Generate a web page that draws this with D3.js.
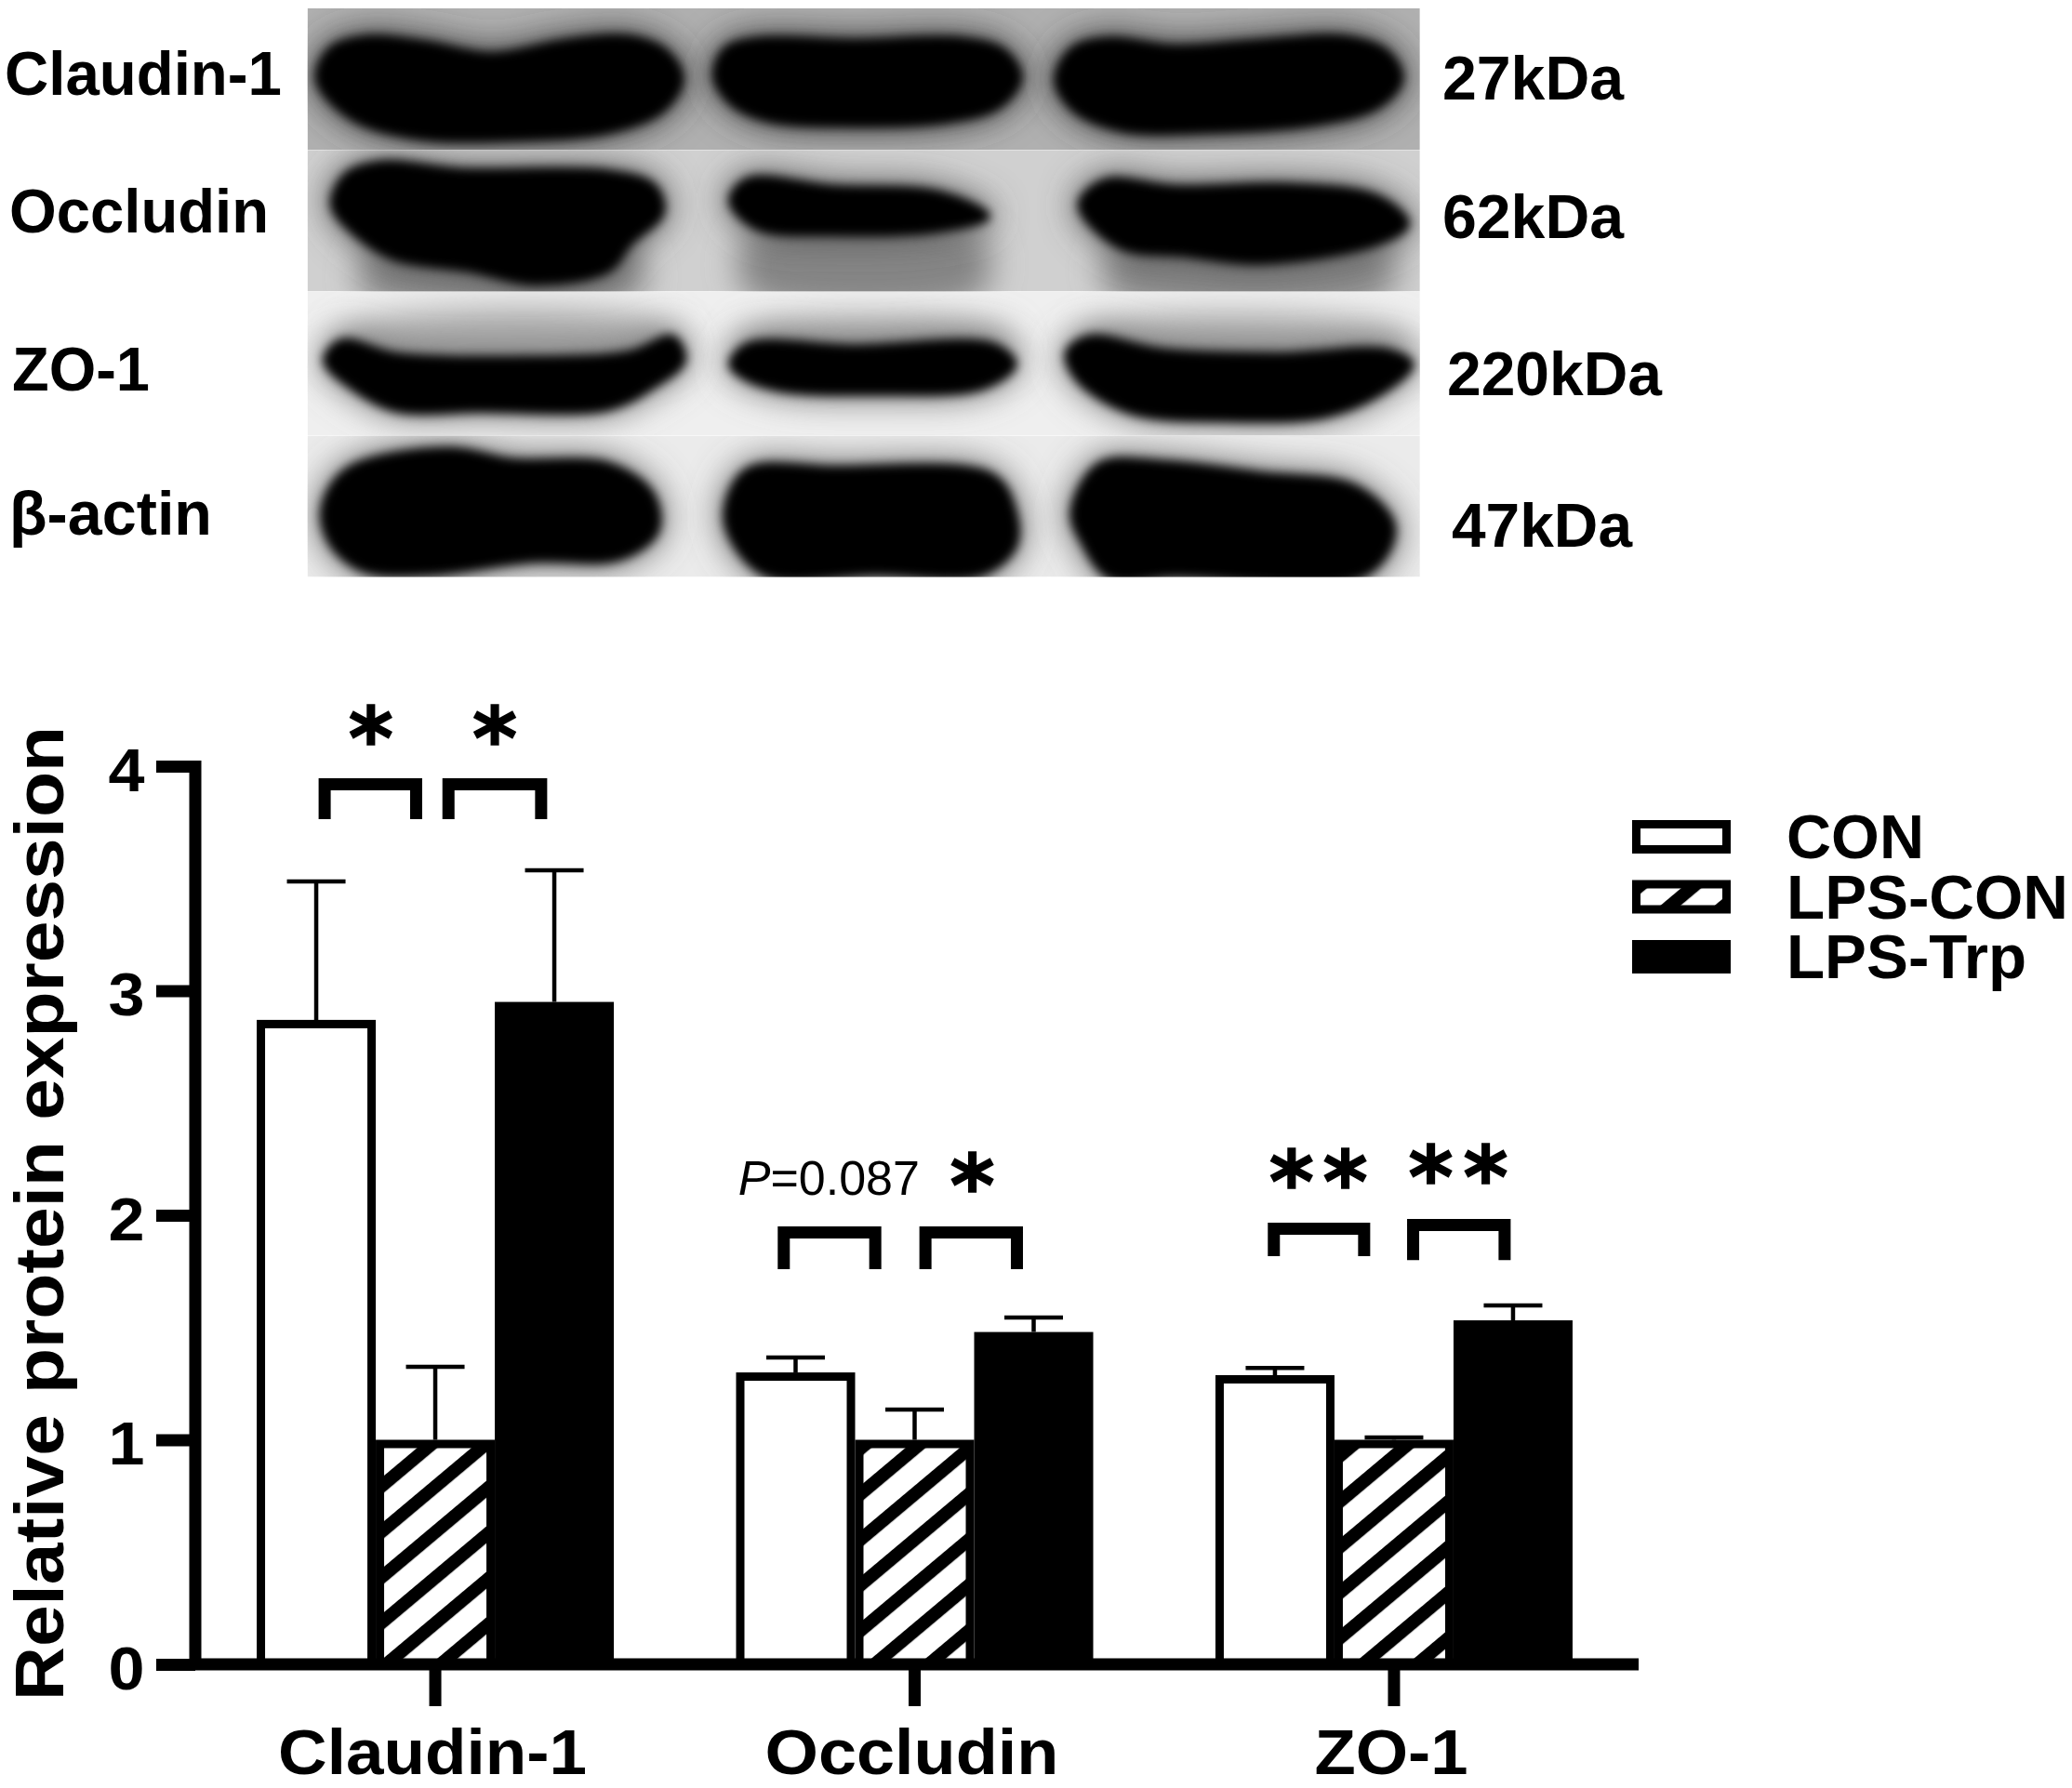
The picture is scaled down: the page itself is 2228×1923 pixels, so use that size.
<!DOCTYPE html>
<html><head><meta charset="utf-8">
<script src="https://cdn.jsdelivr.net/npm/d3@7/dist/d3.min.js"></script>
<style>html,body{margin:0;background:#fff}svg{display:block;filter:blur(.6px)}text{font-family:"Liberation Sans",Arial,sans-serif;font-weight:700;fill:#000}</style>
</head><body><svg id="c" width="2228" height="1923"></svg>
<script>
const groups = ["Claudin-1","Occludin","ZO-1"];
const seriesNames = ["CON","LPS-CON","LPS-Trp"];
const conValues = [2.87,1.30,1.288];
const lpsValues = [1.0,1.0,1.0];
const trpValues = [2.95,1.48,1.532];
const conErrTop = [3.487,1.366,1.32];
const lpsErrTop = [1.325,1.135,1.01];
const trpErrTop = [3.536,1.545,1.598];
const yTicks = [0,1,2,3,4];
const yTitle = "Relative protein expression";
// significance brackets: group, start / end in bar widths from the group centre, top and foot on the value axis
const brackets = [
 [0,-.98,-.11,3.946,3.764],[0,.06,.94,3.946,3.764],
 [1,-1.15,-.28,1.95,1.76],[1,.04,.91,1.95,1.76],
 [2,-1.06,-.2,1.967,1.818],[2,.11,.98,1.983,1.80]];
const stars = [[0,-.54,4.18],[0,.5,4.18],[1,.485,2.186],[2,-.86,2.203],[2,-.41,2.203],[2,.31,2.224],[2,.77,2.224]];
const pNote = [1,-.72,2.09];
const blotLabels = ["Claudin-1","Occludin","ZO-1","β-actin"];
const kdaLabels = ["27kDa","62kDa","220kDa","47kDa"];
// blot bands, in the coordinates of a 1568 x 1568 crop
const blotPanels = [[22,395,"#b0b0b0","#3a3a3a"],[395,768,"#d0d0d0","#555"],[768,1148,"#efefef","#777"],[1148,1520,"#ebebeb","#666"]];
const blotBands = [
 [[298,210],[310,130],[345,100],[400,115],[460,145],[530,110],[590,100],[625,140],[638,210],[620,290],[570,345],[480,365],[390,360],[330,310]],
 [[670,200],[680,130],[710,105],[800,110],[900,105],[940,135],[955,205],[935,280],[880,320],[800,328],[720,315],[685,270]],
 [[990,210],[1005,130],[1040,105],[1100,125],[1180,110],[1260,100],[1300,140],[1312,210],[1290,280],[1230,325],[1130,345],[1050,340],[1005,285]],
 [[312,540],[325,460],[360,430],[430,450],[570,455],[612,490],[620,560],[590,640],[570,710],[500,745],[440,710],[370,680],[335,620]],
 [[685,530],[700,475],[780,495],[880,510],[925,570],[880,605],[780,615],[710,600]],
 [[1012,540],[1035,478],[1100,495],[1210,490],[1290,520],[1318,590],[1290,640],[1180,690],[1110,670],[1050,650]],
 [[305,950],[320,900],[370,935],[480,945],[590,930],[630,890],[640,950],[610,1020],[570,1075],[450,1080],[370,1078],[330,1020]],
 [[685,960],[700,910],[800,915],[930,910],[950,960],[920,1020],[820,1035],[730,1025],[695,990]],
 [[1000,930],[1020,890],[1090,925],[1200,935],[1300,925],[1322,960],[1290,1040],[1240,1095],[1150,1105],[1060,1085],[1010,1000]],
 [[303,1340],[325,1240],[420,1185],[480,1215],[570,1225],[610,1300],[615,1400],[580,1470],[500,1475],[400,1510],[340,1500],[310,1430]],
 [[680,1350],[700,1240],[780,1235],[930,1255],[950,1350],[950,1440],[920,1510],[820,1510],[720,1515],[690,1440]],
 [[1005,1350],[1030,1225],[1090,1220],[1180,1250],[1270,1285],[1305,1390],[1280,1510],[1100,1515],[1040,1520],[1015,1430]]];
const smudgesBlot2 = [
 [[350,640],[590,640],[600,775],[340,775]],
 [[700,620],[920,620],[920,775],[700,775]],
 [[1040,650],[1300,640],[1300,775],[1040,775]]];
const smudgesBlot3 = [
 [[320,870],[630,860],[630,950],[320,950]],
 [[695,875],[945,875],[945,950],[695,950]],
 [[1015,870],[1320,880],[1320,950],[1015,950]]];

const svg = d3.select("#c");
const defs = svg.append("defs");
const pat = defs.append("pattern").attr("id","hatch").attr("patternUnits","userSpaceOnUse")
  .attr("width",37.5).attr("height",37.5).attr("patternTransform","rotate(-40) translate(0,18.7)");
pat.append("rect").attr("width",37.5).attr("height",37.5).attr("fill","#fff");
pat.append("rect").attr("width",37.5).attr("height",14).attr("fill","#000");
const blur=(id,s)=>defs.append("filter").attr("id",id).attr("x","-50%").attr("y","-100%").attr("width","200%").attr("height","300%")
  .append("feGaussianBlur").attr("stdDeviation",s);
blur("soft",5.5); blur("halo",18); blur("smudge",17);

// ---- blot
const bx = d3.scaleLinear([0,1568],[0,1800]);
const by = d3.scaleLinear([0,1568],[0,640]);
const outline = d3.line(d=>bx(d[0]),d=>by(d[1])).curve(d3.curveCatmullRomClosed);
const blot = svg.append("g");
blotPanels.forEach((p,i)=>{
  const id="panel"+i;
  defs.append("clipPath").attr("id",id).append("rect")
    .attr("x",bx(288)).attr("y",by(p[0])).attr("width",bx(1330)-bx(288)).attr("height",by(p[1])-by(p[0]));
  const g = blot.append("g").attr("clip-path",`url(#${id})`);
  g.append("rect").attr("x",bx(288)).attr("y",by(p[0])).attr("width",bx(1330)-bx(288)).attr("height",by(p[1])-by(p[0])).attr("fill",p[2]);
  const bands = blotBands.slice(i*3,i*3+3);
  const sm = i===1?smudgesBlot2:i===2?smudgesBlot3:[];
  g.selectAll(".s").data(sm).join("path").attr("d",outline).attr("fill",i===1?"#858585":"#a8a8a8").attr("filter","url(#smudge)");
  g.selectAll(".h").data(bands).join("path").attr("d",outline).attr("fill",p[3]).attr("stroke",p[3]).attr("stroke-width",14).attr("filter","url(#halo)");
  g.selectAll(".b").data(bands).join("path").attr("d",outline).attr("fill","#000").attr("stroke","#000").attr("stroke-width",6).attr("filter","url(#soft)");
});
const fit=(sel,x,y,w,size,t)=>sel.append("text").attr("x",x).attr("y",y).attr("font-size",size)
  .attr("textLength",w).attr("lengthAdjust","spacingAndGlyphs").text(t);
fit(svg,5,102,298,66,blotLabels[0]);
fit(svg,10,250,279,66,blotLabels[1]);
fit(svg,13,420,148,66,blotLabels[2]);
fit(svg,10,575,218,66,blotLabels[3]);
fit(svg,1551,107,195,66,kdaLabels[0]);
fit(svg,1551,256,195,66,kdaLabels[1]);
fit(svg,1556,425,231,66,kdaLabels[2]);
fit(svg,1561,588,194,66,kdaLabels[3]);

// ---- chart
const y = d3.scaleLinear([0,4],[1790,824]);
const x0 = d3.scaleBand(groups,[208,1759]).paddingInner(.255).paddingOuter(.132);
const x1 = d3.scaleBand(seriesNames,[0,x0.bandwidth()]);
const rows = groups.flatMap((g,i)=>[
 {g,s:seriesNames[0],v:conValues[i],e:conErrTop[i]},
 {g,s:seriesNames[1],v:lpsValues[i],e:lpsErrTop[i]},
 {g,s:seriesNames[2],v:trpValues[i],e:trpErrTop[i]}]);
const fills = d3.scaleOrdinal(seriesNames,["#fff","url(#hatch)","#000"]);
const sw=9, capW=63;
const cx = d=>x0(d.g)+x1(d.s)+x1.bandwidth()/2;
const chart = svg.append("g");
chart.selectAll(".err").data(rows).join("path")
  .attr("d",d=>`M${cx(d)},${y(d.v)}V${y(d.e)}M${cx(d)-capW/2},${y(d.e)}H${cx(d)+capW/2}`)
  .attr("fill","none").attr("stroke","#000").attr("stroke-width",4.5);
chart.selectAll(".bar").data(rows).join("rect")
  .attr("x",d=>x0(d.g)+x1(d.s)+sw/2).attr("width",x1.bandwidth()-sw)
  .attr("y",d=>y(d.v)+sw/2).attr("height",d=>y(0)-y(d.v)-sw/2)
  .attr("fill",d=>fills(d.s)).attr("stroke","#000").attr("stroke-width",sw);

const yAxis = svg.append("g").attr("transform","translate(210,0)")
  .call(d3.axisLeft(y).tickValues(yTicks).tickFormat(d3.format("d")).tickSize(42).tickSizeOuter(0).tickPadding(12));
const xAxisG = svg.append("g").attr("transform",`translate(0,${y(0)})`)
  .call(d3.axisBottom(x0).tickSize(45).tickSizeOuter(0).tickPadding(30));
xAxisG.select(".domain").attr("d","M204,0H1762");
[yAxis,xAxisG].forEach(a=>{
  a.selectAll(".domain,.tick line").attr("stroke","#000").attr("stroke-width",13).attr("fill","none");
});
yAxis.select(".domain").attr("d",`M0,${y(4)-6}V${y(0)}`);
yAxis.selectAll(".tick text").attr("font-size",64).attr("font-family","Liberation Sans").attr("font-weight",700)
  .attr("text-anchor","middle").attr("x",-74).attr("dy",0).attr("y",26)
  .attr("textLength",39).attr("lengthAdjust","spacingAndGlyphs");
const xWidths=[332,316,165], xBase=1908;
xAxisG.selectAll(".tick text").attr("font-size",68).attr("font-family","Liberation Sans").attr("font-weight",700)
  .attr("dy",0).attr("x",-3).attr("y",xBase-y(0)).attr("textLength",(d,i)=>xWidths[i]).attr("lengthAdjust","spacingAndGlyphs");

svg.append("text").attr("transform","translate(68,1829) rotate(-90)").attr("font-size",75)
  .attr("textLength",1048).attr("lengthAdjust","spacingAndGlyphs").text(yTitle);

// ---- annotations
const ax = (g,u)=>x0(groups[g])+x0.bandwidth()/2+u*x1.bandwidth();
const bw=13;
chart.selectAll(".br").data(brackets).join("path")
  .attr("d",d=>`M${ax(d[0],d[1])+bw/2},${y(d[4])}V${y(d[3])+bw/2}H${ax(d[0],d[2])-bw/2}V${y(d[4])}`)
  .attr("fill","none").attr("stroke","#000").attr("stroke-width",bw);
chart.selectAll(".st").data(stars).join("text")
  .attr("x",d=>ax(d[0],d[1])).attr("y",d=>y(d[2])+46)
  .attr("text-anchor","middle").attr("font-size",92).attr("stroke","#000").attr("stroke-width",1.5)
  .style("font-family","DejaVu Sans").text("*");
const pt = chart.append("text").attr("x",ax(pNote[0],pNote[1])).attr("y",y(pNote[2])).attr("text-anchor","middle")
  .attr("font-size",52).style("font-weight",400);
pt.append("tspan").style("font-style","italic").text("P");
pt.append("tspan").text("=0.087");

// ---- legend
const legendY = d3.scalePoint(seriesNames,[900,1029]);
const legendW=[148,303,258];
const lg = svg.append("g");
lg.selectAll("rect").data(seriesNames).join("rect")
  .attr("x",1755+4.5).attr("width",106-9).attr("y",d=>legendY(d)-18+4.5).attr("height",36-9)
  .attr("fill",d=>fills(d)).attr("stroke","#000").attr("stroke-width",9);
lg.selectAll("text").data(seriesNames).join("text")
  .attr("x",1921).attr("y",d=>legendY(d)+23).attr("font-size",66)
  .attr("textLength",(d,i)=>legendW[i]).attr("lengthAdjust","spacingAndGlyphs").text(d=>d);
</script></body></html>
